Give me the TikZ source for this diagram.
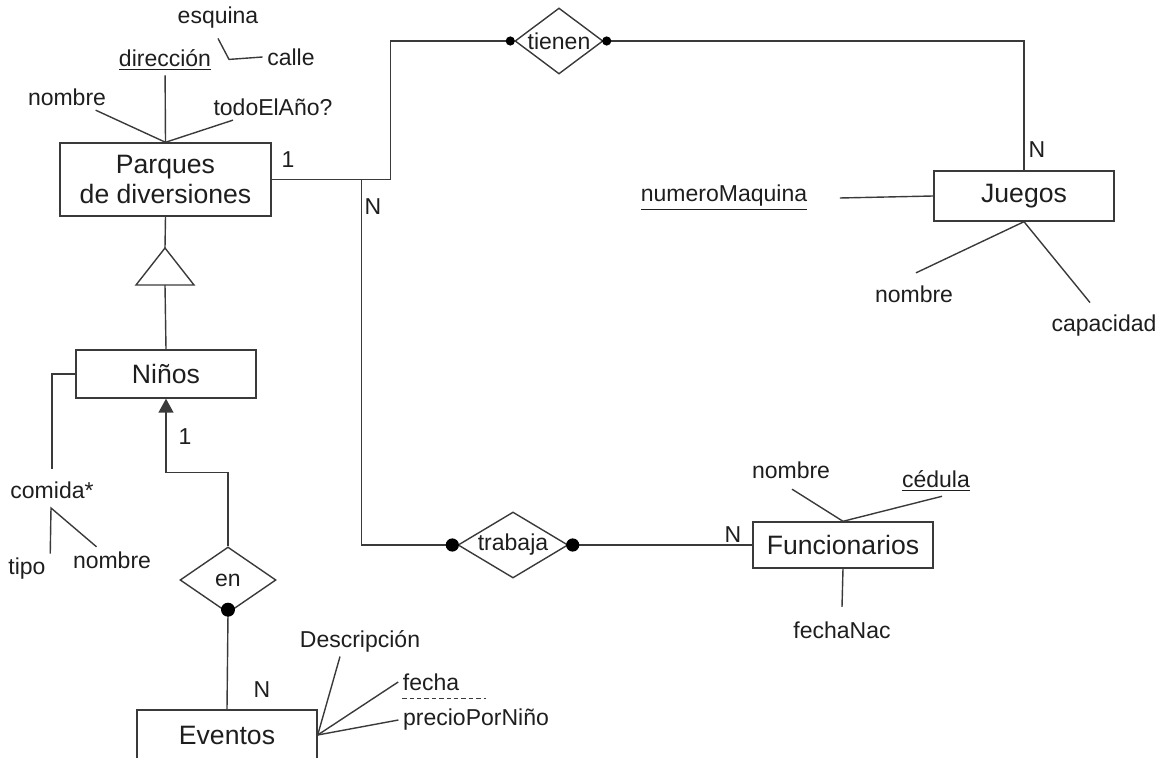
\documentclass[tikz,border=0pt]{standalone}
\usepackage{fontspec}
\setmainfont{Liberation Sans}
\usetikzlibrary{shapes.geometric,arrows.meta}
\definecolor{linea}{HTML}{3A3A3A}
\definecolor{texto}{HTML}{1E1E1E}

\begin{document}
\begin{tikzpicture}[x=0.5pt,y=-0.5pt,line width=0.7pt,color=linea,text=texto,
  ent/.style={draw, rectangle, inner sep=0pt, align=center, font=\fontsize{13.3}{15}\selectfont},
  attr/.style={inner sep=2pt, font=\fontsize{11.5}{13}\selectfont},
  card/.style={inner sep=0pt, font=\fontsize{11.5}{13}\selectfont},
  rel/.style={draw, diamond, inner sep=0pt, label={[font=\fontsize{11.5}{13}\selectfont, text=texto]center:#1}}]
\clip (0,0) rectangle (1162,758);

% entidades
\node[ent, minimum width=105.5pt, minimum height=36.5pt] (parques) at (165.5,179.5) {Parques\\de diversiones};
\node[ent, minimum width=90pt, minimum height=24pt] (ninos) at (166,374) {Niños};
\node[ent, minimum width=90pt, minimum height=25pt] (eventos) at (227,735) {Eventos};
\node[ent, minimum width=90pt, minimum height=25pt] (juegos) at (1024,196) {Juegos};
\node[ent, minimum width=90pt, minimum height=23pt] (func) at (843,545) {Funcionarios};

% relaciones
\node[rel=tienen, minimum width=44pt, minimum height=33pt] (tienen) at (559,41) {};
\node[rel=trabaja, minimum width=55pt, minimum height=33pt] (trabaja) at (513,545) {};
\node[rel=en, minimum width=48pt, minimum height=33pt] (en) at (228,580) {};

% atributos
\node[attr] (pnom) at (67,97) {nombre};
\node[attr] (pdir) at (165,60) {\underline{dirección}};
\node[attr] (ptodo) at (273,107) {todoElAño?};
\node[attr] (pesq) at (218,18) {esquina};
\node[attr] (pcalle) at (291,57) {calle};
\node[attr] (ncom) at (52,490) {comida*};
\node[attr] (ctipo) at (27,569) {tipo};
\node[attr] (cnom) at (112,560) {nombre};
\node[attr] (edesc) at (360,641) {Descripción};
\node[attr] (efecha) at (431,682) {fecha};
\node[attr] (eprecio) at (476,720) {precioPorNiño};
\node[attr] (jnum) at (724,198) {\underline{numeroMaquina}};
\node[attr] (jnom) at (914,294) {nombre};
\node[attr] (jcap) at (1104,326) {capacidad};
\node[attr] (fnom) at (791,470) {nombre};
\node[attr] (fced) at (936,481) {\underline{cédula}};
\node[attr] (fnac) at (842,630) {fechaNac};

% cardinalidades
\node[card] (c1p) at (288,160) {1};
\node[card] (cnp) at (373,207) {N};
\node[card] (cnj) at (1037,150) {N};
\node[card] (cnf) at (733,535) {N};
\node[card] (c1n) at (185,437) {1};
\node[card] (cne) at (262,690) {N};

% generalizacion
\coordinate (isatop) at (165,248);
\coordinate (isabase) at (165,285);
\draw (isatop) -- ++(-29,37) -- ++(58,0) -- cycle;
\draw (parques.south) -- (isatop);
\draw (isabase) -- (ninos.north);

\draw (pnom) -- (parques.north);
\draw (pdir) -- (parques.north);
\draw (ptodo) -- (parques.north);
\draw (pesq.south) ++(0,5) -- ++(11,21) -- (pcalle.west);

\draw[shorten >=4pt] (ninos.west) -| (ncom.north);
\coordinate (cfork) at (51,508);
\draw (ctipo.north east) -- (cfork) -- (cnom);

\draw (eventos.east) -- ([xshift=-10pt]edesc.south);
\draw (eventos.east) -- (efecha.west);
\draw (eventos.east) -- (eprecio.west);
\draw[line width=0.5pt, dash pattern=on 2.2pt off 1.5pt] (efecha.south west) ++(4,3) -- ++(84,0);

\draw (jnum.east) ++(28,0) -- (juegos.west);
\draw (jnom.north) ++(2,-8) -- (juegos.south);
\draw (jcap.north) ++(-14,-8) -- (juegos.south);

\draw (fnom.south) ++(1,6) -- (func.north);
\draw ([xshift=3pt]fced.south) -- (func.north);
\draw (fnac.north) ++(0,-10) -- (func.south);

% conexiones
\draw (parques.east) -- ++(119,0) |- (tienen.west);
\draw (parques.east) ++(90,0) |- (trabaja.west);
\draw (tienen.east) -| (juegos.north);
\draw (trabaja.east) -- (func.west);
\draw[-{Triangle[length=7pt,width=7.5pt]}] (en.north) -- ++(0,-74) -| (ninos.south);
\draw (en.south) -- (eventos.north);

\fill[black] ([xshift=-2pt]tienen.west) circle (2.3pt);
\fill[black] ([xshift=1.5pt]tienen.east) circle (2.3pt);
\fill[black] ([xshift=-2.5pt]trabaja.west) circle (3.3pt);
\fill[black] ([xshift=2pt]trabaja.east) circle (3.3pt);
\fill[black] ([yshift=2pt]en.south) circle (3.5pt);
\end{tikzpicture}
\end{document}
